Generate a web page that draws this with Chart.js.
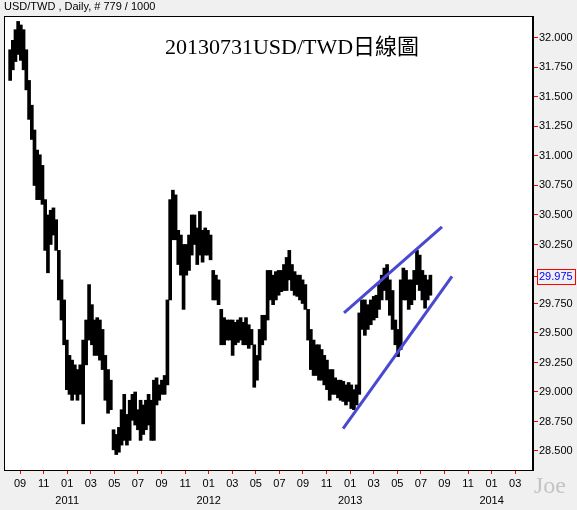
<!DOCTYPE html>
<html>
<head>
<meta charset="utf-8">
<title>USD/TWD Daily</title>
<script src="https://cdn.jsdelivr.net/npm/chart.js@4.4.1/dist/chart.umd.min.js"></script>
<style>
  body { margin: 0; background: #f0f0f0; }
  #chart { display: block; }
</style>
</head>
<body>
<canvas id="chart" width="577" height="510"></canvas>
<script>
// weekly ranges, first week starts 2010-08-06
const startDate = '2010-08-06';

const weekHighs = [
  31.90, 31.98, 32.07, 32.14, 32.11, 32.07, 31.90, 31.64, 31.43, 31.22,
  31.05, 31.01, 30.92, 30.63, 30.50, 30.54, 30.56, 30.46, 30.20, 29.95,
  29.78, 29.44, 29.31, 29.27, 29.23, 29.19, 29.23, 29.44, 29.61, 29.91,
  29.74, 29.61, 29.63, 29.61, 29.53, 29.31, 29.19, 29.10, 28.68, 28.64,
  28.70, 28.85, 28.98, 28.81, 28.93, 28.98, 29.00, 28.85, 28.93, 28.89,
  28.93, 28.98, 28.93, 29.10, 29.12, 29.06, 29.10, 29.14, 29.78, 30.63,
  30.71, 30.67, 30.37, 30.33, 30.25, 30.25, 30.33, 30.50, 30.50, 30.39,
  30.53, 30.37, 30.39, 30.37, 30.33, 30.03, 29.99, 29.95, 29.70, 29.63,
  29.61, 29.61, 29.61, 29.59, 29.61, 29.63, 29.59, 29.63, 29.57, 29.53,
  29.40, 29.31, 29.53, 29.65, 29.65, 30.03, 30.03, 29.99, 30.02, 30.03,
  30.03, 30.08, 30.14, 30.20, 30.08, 30.02, 29.99, 29.99, 29.95, 29.91,
  29.70, 29.53, 29.44, 29.40, 29.40, 29.36, 29.31, 29.27, 29.19, 29.19,
  29.12, 29.10, 29.10, 29.09, 29.06, 29.08, 29.06, 29.02, 29.06, 29.67,
  29.78, 29.78, 29.74, 29.78, 29.81, 29.82, 29.91, 29.99, 30.05, 30.08,
  29.95, 29.86, 29.61, 29.53, 29.95, 30.05, 30.03, 29.95, 29.95, 30.03,
  30.20, 30.16, 30.03, 29.99, 29.95, 29.99
];

const weekLows = [
  31.64, 31.73, 31.80, 31.86, 31.81, 31.73, 31.56, 31.31, 31.14, 30.75,
  30.63, 30.63, 30.59, 30.20, 30.01, 30.25, 30.33, 30.20, 29.78, 29.61,
  29.40, 29.02, 28.98, 28.93, 28.98, 28.93, 28.98, 28.73, 29.23, 29.44,
  29.40, 29.31, 29.31, 29.27, 29.19, 28.93, 28.82, 28.85, 28.51, 28.47,
  28.49, 28.55, 28.59, 28.55, 28.59, 28.76, 28.72, 28.68, 28.59, 28.64,
  28.68, 28.72, 28.59, 28.59, 28.89, 28.93, 28.98, 28.98, 29.06, 29.78,
  30.29, 30.29, 30.08, 29.99, 29.70, 29.99, 30.03, 30.16, 30.25, 30.08,
  30.16, 30.10, 30.16, 30.16, 30.12, 29.78, 29.78, 29.74, 29.40, 29.40,
  29.44, 29.44, 29.31, 29.40, 29.42, 29.44, 29.40, 29.40, 29.37, 29.40,
  29.04, 29.10, 29.27, 29.40, 29.44, 29.61, 29.78, 29.74, 29.78, 29.82,
  29.85, 29.86, 29.86, 29.95, 29.86, 29.82, 29.81, 29.78, 29.75, 29.70,
  29.44, 29.19, 29.14, 29.14, 29.10, 29.10, 29.06, 29.02, 28.93, 28.98,
  28.98, 28.95, 28.93, 28.92, 28.89, 28.92, 28.86, 28.85, 28.89, 28.98,
  29.53, 29.48, 29.53, 29.57, 29.61, 29.63, 29.70, 29.78, 29.86, 29.78,
  29.65, 29.53, 29.40, 29.30, 29.36, 29.78, 29.78, 29.70, 29.74, 29.78,
  29.91, 29.86, 29.78, 29.71, 29.78, 29.82
];

const lastPrice = 29.975;

// hand drawn trend channel (month index, price)
const upperLine = [[35.48, 29.67], [43.79, 30.40]];
const lowerLine = [[35.40, 28.69], [44.64, 29.98]];

const yTicks = [28.5, 28.75, 29.0, 29.25, 29.5, 29.75, 29.975, 30.25, 30.5, 30.75, 31.0, 31.25, 31.5, 31.75, 32.0];
// month index counted from Jan 2010 = 0
const xTicks = [8, 10, 12, 14, 16, 18, 20, 22, 24, 26, 28, 30, 32, 34, 36, 38, 40, 42, 44, 46, 48, 50];

const toMonthIndex = (d) => {
  const days = new Date(d.getFullYear(), d.getMonth() + 1, 0).getDate();
  return (d.getFullYear() - 2010) * 12 + d.getMonth() + (d.getDate() - 1) / days;
};

const bars = weekHighs.map((hi, i) => {
  const d = new Date(startDate + 'T00:00:00');
  d.setDate(d.getDate() + 7 * i);
  return { x: toMonthIndex(d), y: [weekLows[i], hi] };
});

const framePlugin = {
  id: 'frame',
  beforeDraw(chart) {
    const { ctx, chartArea: a } = chart;
    ctx.save();
    ctx.fillStyle = '#f0f0f0';
    ctx.fillRect(0, 0, chart.width, chart.height);
    ctx.fillStyle = '#ffffff';
    ctx.fillRect(a.left, a.top, a.right - a.left, a.bottom - a.top);
    ctx.restore();
  },
  afterDraw(chart) {
    const { ctx, chartArea: a } = chart;
    ctx.save();
    ctx.strokeStyle = '#000';
    ctx.lineWidth = 1;
    ctx.strokeRect(a.left + 0.5, a.top + 0.5, a.right - a.left - 1, a.bottom - a.top);

    ctx.fillStyle = '#000';
    ctx.textBaseline = 'middle';
    ctx.font = '11px "Liberation Sans", Arial, sans-serif';
    ctx.fillText('USD/TWD , Daily, # 779 / 1000', 4, 7);

    ctx.textAlign = 'center';
    ctx.font = '22px "Liberation Serif", "Noto Sans CJK TC", serif';
    ctx.fillText('20130731USD/TWD日線圖', 292, 48);

    ctx.fillStyle = '#c4c4c4';
    ctx.font = '24px "Liberation Serif", serif';
    ctx.fillText('Joe', 550, 487);

    // last price box on the right axis
    const py = Math.round(chart.scales.y.getPixelForValue(lastPrice));
    ctx.strokeStyle = '#ff0000';
    ctx.strokeRect(537.5, py - 7.5, 38, 15);
    ctx.restore();
  }
};

new Chart(document.getElementById('chart'), {
  type: 'bar',
  data: {
    datasets: [
      {
        type: 'line',
        data: upperLine.map(([x, y]) => ({ x, y })),
        borderColor: '#4848d0',
        borderWidth: 3,
        pointRadius: 0,
        order: 1,
      },
      {
        type: 'line',
        data: lowerLine.map(([x, y]) => ({ x, y })),
        borderColor: '#4848d0',
        borderWidth: 3,
        pointRadius: 0,
        order: 1,
      },
      {
        data: bars,
        backgroundColor: '#000',
        barThickness: 3,
        order: 2,
      },
    ],
  },
  options: {
    responsive: false,
    animation: false,
    layout: { padding: { left: 4, top: 16, right: 0, bottom: 0 } },
    plugins: { legend: { display: false }, tooltip: { enabled: false } },
    scales: {
      x: {
        type: 'linear',
        offset: false,
        min: 6.64,
        max: 51.51,
        afterBuildTicks: (scale) => { scale.ticks = xTicks.map((v) => ({ value: v })); },
        afterFit: (scale) => { scale.height = 40; },
        grid: { drawOnChartArea: false, color: '#ff0000', tickLength: 4, offset: false },
        border: { display: true, color: '#000' },
        ticks: {
          autoSkip: false,
          maxRotation: 0,
          padding: 1,
          color: '#000',
          font: { family: '"Liberation Sans", Arial, sans-serif', size: 11, lineHeight: 1.6 },
          callback: (v) => {
            const m = String((v % 12) + 1).padStart(2, '0');
            return v % 12 === 0 ? [m, String(2010 + v / 12)] : m;
          },
        },
      },
      y: {
        position: 'right',
        min: 28.339,
        max: 32.186,
        afterBuildTicks: (scale) => { scale.ticks = yTicks.map((v) => ({ value: v })); },
        afterFit: (scale) => { scale.width = 44; },
        grid: { drawOnChartArea: false, color: '#ff0000', tickLength: 5 },
        border: { display: true, color: '#000' },
        ticks: {
          padding: 1,
          color: (c) => (c.tick.value === lastPrice ? '#0000ff' : '#000'),
          font: { family: '"Liberation Sans", Arial, sans-serif', size: 11 },
          callback: (v) => v.toFixed(3),
        },
      },
    },
  },
  plugins: [framePlugin],
});
</script>
</body>
</html>
